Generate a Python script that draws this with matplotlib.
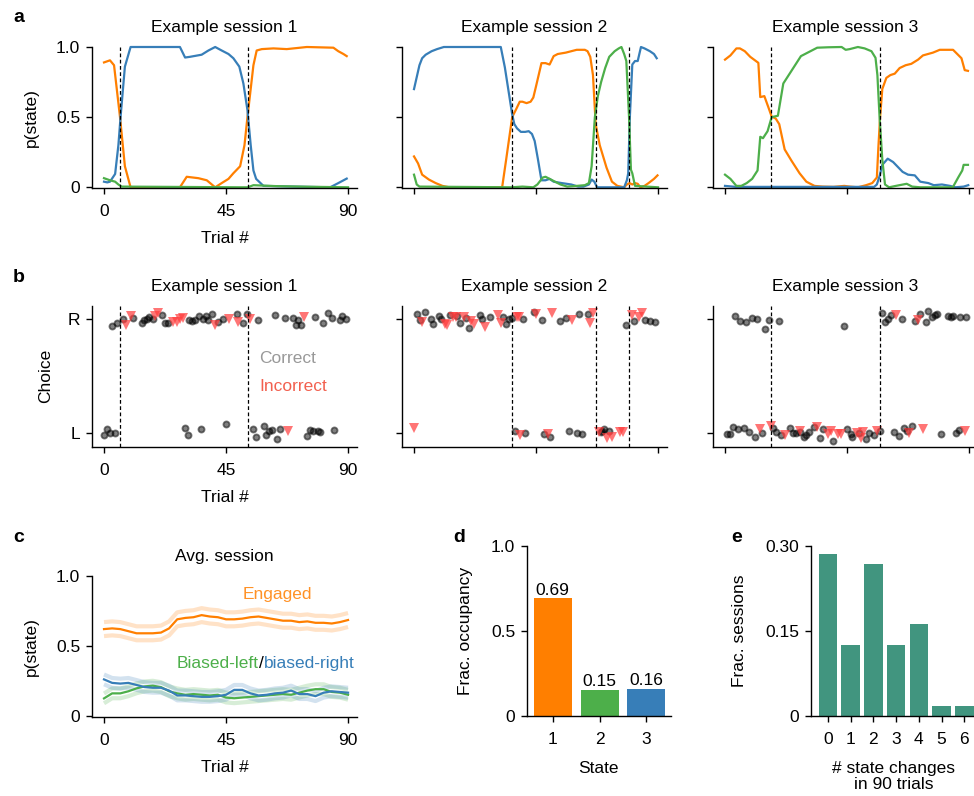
import matplotlib
matplotlib.use("Agg")
import matplotlib.pyplot as plt
import numpy as np

plt.rcParams["font.family"] = ["Liberation Sans", "DejaVu Sans"]
plt.rcParams["font.size"] = 12.5
plt.rcParams["axes.titlesize"] = 12.5

ORANGE = "#ff7f00"
GREEN = "#4daf4a"
BLUE = "#377eb8"
TEAL = "#41957f"
RED = "#ff3b3b"

# --- a: posterior state probabilities, three example sessions ---
s1_orange_x = [0, 2.2, 3.7, 5.9, 7.7, 9.8, 28, 30.5, 34.8, 37.9, 41, 43.4, 45.9, 47.7, 50.2, 51.8,
               52.9, 55.1, 56.3, 58.2, 62.5, 67.4, 74.8, 84.6, 86.4, 88.3, 89.5]
s1_orange_y = [0.89, 0.905, 0.87, 0.5, 0.15, 0.0, 0.0, 0.075, 0.065, 0.05, 0.0, 0.03, 0.06, 0.1, 0.15, 0.3,
               0.5, 0.87, 0.975, 0.985, 0.99, 0.985, 1.0, 0.995, 0.97, 0.95, 0.935]
s1_blue_x = [0, 1.2, 2.2, 4.1, 5.3, 6.1, 7.7, 9.8, 28, 29.9, 31.7, 36, 38.5, 41, 43.4, 45.9, 47.7, 49.9,
             51.4, 52.9, 54.1, 55.1, 56.1, 58.8, 70, 83.4, 86.4, 89.5]
s1_blue_y = [0.04, 0.035, 0.04, 0.095, 0.3, 0.5, 0.86, 1.0, 1.0, 0.925, 0.93, 0.945, 0.975, 1.0, 0.975, 0.95,
             0.92, 0.86, 0.74, 0.55, 0.3, 0.12, 0.06, 0.01, 0.005, 0.0, 0.03, 0.062]
s1_green_x = [0, 2.2, 4.1, 5.3, 6.5, 50, 53, 55.1, 58.8, 64, 75, 90]
s1_green_y = [0.065, 0.05, 0.04, 0.02, 0.005, 0.0, 0.0, 0.015, 0.012, 0.008, 0.004, 0.0]

s2_orange_x = [0, 1.5, 3, 5.5, 8, 10.5, 13, 32.5, 34, 36.2, 37.5, 39, 40, 41.5, 43, 44, 45, 47, 48.5, 50,
               51.5, 53, 56, 60, 63, 64, 65, 66, 67, 68.5, 71, 73, 75, 77.5, 78.5, 79.5, 80.5, 81.5, 82.5,
               83.5, 85, 86.5, 88.5, 89.8]
s2_orange_y = [0.22, 0.17, 0.09, 0.055, 0.03, 0.01, 0.0, 0.0, 0.2, 0.5, 0.55, 0.61, 0.61, 0.6, 0.61, 0.64,
               0.72, 0.885, 0.885, 0.875, 0.935, 0.95, 0.96, 0.98, 0.98, 0.97, 0.93, 0.8, 0.45, 0.3, 0.14,
               0.04, 0.01, 0.0, 0.02, 0.03, 0.02, 0.03, 0.025, 0.0, 0.01, 0.03, 0.06, 0.085]
s2_blue_x = [0, 2, 3, 4.3, 6.5, 8.5, 11, 32, 33.5, 36.2, 37, 38, 39.4, 41, 42.3, 43.5, 44.5, 45.7, 47, 48.5,
             50, 51.5, 54.5, 58, 60.5, 62.5, 64.5, 65.5, 66.5, 67.5, 77.5, 78.5, 79, 79.6, 80.5, 81.5, 82.5,
             83.7, 85, 87, 88.5, 89.5]
s2_blue_y = [0.70, 0.87, 0.92, 0.945, 0.97, 0.985, 1.0, 1.0, 0.855, 0.52, 0.45, 0.42, 0.395, 0.395, 0.40,
             0.38, 0.33, 0.2, 0.05, 0.05, 0.06, 0.04, 0.03, 0.02, 0.005, 0.005, 0.02, 0.055, 0.04, 0.0, 0.0,
             0.05, 0.1, 0.5, 0.875, 0.9, 0.9, 1.0, 0.99, 0.97, 0.95, 0.92]
s2_green_x = [0, 1, 2, 36, 40, 44, 45.5, 47.5, 48.5, 51, 54, 56.5, 60, 63, 64.5, 65.5, 66.7, 67.8, 69, 70.5,
              72, 74, 75.5, 76.5, 77.5, 78.3, 79.3, 80, 80.5, 81.5, 90]
s2_green_y = [0.09, 0.02, 0.005, 0.0, 0.005, 0.0, 0.02, 0.07, 0.075, 0.05, 0.02, 0.005, 0.01, 0.015, 0.03,
              0.15, 0.5, 0.65, 0.75, 0.85, 0.93, 0.97, 0.99, 1.0, 0.95, 0.9, 0.5, 0.125, 0.1, 0.01, 0.0]

s3_orange_x = [0, 2, 4.2, 5.5, 7.3, 9.3, 12.3, 13, 14.5, 16, 17.2, 18.7, 20, 22, 24.5, 27.5, 30, 33, 36, 40,
               44, 46, 49, 52, 54.3, 56, 56.6, 57.2, 58, 59.5, 61, 62.6, 64.4, 66.6, 68.7, 71.2, 73, 76.7,
               79.2, 84.1, 87.2, 88.4, 89.6]
s3_orange_y = [0.91, 0.94, 0.99, 0.99, 0.97, 0.93, 0.887, 0.643, 0.65, 0.57, 0.504, 0.49, 0.45, 0.27, 0.19,
               0.1, 0.04, 0.01, 0.005, 0.003, 0.01, 0.005, 0.0, 0.015, 0.03, 0.07, 0.3, 0.5, 0.7, 0.78, 0.8,
               0.81, 0.85, 0.87, 0.88, 0.91, 0.94, 0.96, 0.98, 0.98, 0.92, 0.835, 0.83]
s3_green_x = [0, 2, 4.2, 6, 8, 10, 12, 13, 14, 15.7, 17.2, 19.5, 21.5, 23.5, 25.5, 28, 30.5, 34, 38, 43, 44.5,
              46, 49, 51.5, 54, 55.5, 56.2, 57, 58, 59, 60.5, 63, 67, 69, 72, 84, 86, 87.5, 88, 89.6]
s3_green_y = [0.09, 0.06, 0.01, 0.01, 0.03, 0.06, 0.12, 0.36, 0.35, 0.4, 0.5, 0.51, 0.74, 0.8, 0.86, 0.935,
              0.96, 0.995, 0.998, 1.0, 0.98, 0.985, 1.0, 0.99, 0.97, 0.923, 0.8, 0.5, 0.2, 0.02, 0.0, 0.01,
              0.025, 0.005, 0.0, 0.0, 0.07, 0.12, 0.16, 0.16]
s3_blue_x = [0, 4, 55, 56, 57, 58, 60, 62, 63.5, 65.5, 67.5, 70, 72, 75, 77, 80, 83, 85, 88, 89.7]
s3_blue_y = [0.01, 0.003, 0.003, 0.02, 0.08, 0.16, 0.204, 0.18, 0.15, 0.11, 0.09, 0.085, 0.04, 0.03, 0.015,
             0.02, 0.01, 0.0, 0.005, 0.015]

state_changes = [[6, 53], [36.3, 67.3, 79.3], [17, 57]]

# --- b: choices (trial, vertical jitter) ---
s1_right_correct = [(2.8, -0.059), (4.7, -0.035), (6.9, 0), (10.8, 0.009), (13.9, -0.029), (14.7, -0.006),
                    (15.7, 0.006), (16.7, 0.018), (17.9, 0), (21.5, 0.038), (22.5, -0.029), (23.7, -0.029),
                    (31.4, -0.006), (32.3, -0.015), (33.5, -0.006), (35.0, 0.029), (36.6, 0), (37.6, 0.029),
                    (38.4, -0.006), (39.7, 0.047), (42.1, -0.024), (43.7, 0.006), (48.9, 0.044),
                    (51.1, -0.035), (52.8, 0.044), (56.9, -0.006), (63.0, 0.038), (66.7, 0.009),
                    (69.7, 0.009), (70.7, -0.05), (71.6, -0.006), (72.8, -0.05), (77.7, 0.018),
                    (80.8, -0.029), (82.6, 0.059), (83.9, 0.009), (86.9, -0.006), (87.9, 0.029), (89.4, 0)]
s1_right_wrong = [(8.1, -0.05), (9.9, 0.029), (18.8, 0.029), (20.0, 0.053), (25.5, -0.021), (26.8, -0.024),
                  (28.0, 0), (29.0, 0.009), (40.9, -0.05), (46.2, 0), (49.5, -0.021), (53.8, 0), (73.7, 0.018)]
s1_left_correct = [(0, -0.021), (1.0, 0.029), (2.2, -0.006), (4.1, -0.006), (30.0, 0.044), (31.1, -0.024),
                   (35.7, 0.029), (44.9, 0.074), (55.0, 0.029), (56.0, -0.041), (58.9, 0.062),
                   (59.9, -0.024), (60.9, 0.018), (61.8, 0.024), (63.9, -0.059), (64.8, 0.029),
                   (74.9, -0.026), (75.9, 0.024), (77.1, 0.018), (79.0, 0.015), (79.8, 0.009), (84.8, 0.024)]
s1_left_wrong = [(68.0, 0.015)]

s2_right_correct = [(1.2, 0.047), (2.3, -0.006), (4.2, 0.062), (6.1, 0), (7.0, -0.041), (9.1, 0.029),
                    (10.1, 0.003), (13.1, 0.038), (15.8, 0.029), (17.1, -0.035), (19.3, 0.009),
                    (20.1, -0.079), (24.2, 0.038), (25.2, 0), (28.1, 0.024), (33.0, 0.018), (34.0, -0.041),
                    (35.0, 0), (36.2, 0.009), (40.2, 0), (44.1, 0.068), (47.1, -0.006), (54.0, -0.012),
                    (56.1, 0.015), (61.0, 0.047), (64.1, 0.044), (78.0, -0.053), (81.3, -0.012),
                    (85.2, -0.006), (87.1, -0.015), (89.0, -0.026)]
s2_right_wrong = [(3.1, -0.021), (11.3, -0.044), (12.2, -0.05), (14.4, 0.024), (15.6, 0.018), (18.3, 0.024),
                  (21.1, -0.012), (22.3, -0.044), (26.3, -0.065), (30.9, 0.038), (31.9, -0.035),
                  (37.8, 0.018), (38.7, 0.018), (45.1, 0.047), (51.0, 0.053), (58.1, -0.006),
                  (65.0, -0.035), (65.9, 0.053), (80.4, 0.038), (83.1, 0.018), (84.1, 0.053)]
s2_left_correct = [(37.1, 0.018), (41.1, 0), (47.8, -0.012), (50.2, -0.035), (57.1, 0.012), (60.0, -0.006),
                   (62.0, -0.012), (68.8, 0.006), (69.4, 0.018), (70.2, 0.029), (71.8, 0.012)]
s2_left_wrong = [(0, 0.038), (39.2, -0.021), (49.4, -0.012), (68.1, 0.003), (71.1, -0.05), (73.1, -0.035),
                 (76.0, 0.009), (77.0, 0.003)]

s3_right_correct = [(3.7, 0.032), (5.7, -0.015), (7.7, -0.021), (9.8, 0.015), (11.8, 0.003), (14.9, -0.088),
                    (16.1, -0.006), (19.9, -0.015), (43.9, -0.056), (58.0, 0.059), (59.0, -0.021),
                    (60.0, 0.003), (61.2, 0.038), (65.2, 0), (70.1, -0.012), (71.9, 0.044), (74.1, -0.026),
                    (75.0, 0.076), (76.2, 0.024), (77.4, 0.038), (78.3, 0.044), (82.1, 0.029),
                    (83.2, 0.024), (84.1, 0.029), (86.8, 0.024), (89.0, 0.018)]
s3_right_wrong = [(63.2, 0.038), (71.0, -0.006)]
s3_left_correct = [(0.6, -0.012), (1.8, -0.012), (2.8, 0.053), (4.9, 0.029), (7.0, 0.038), (8.9, 0.003),
                   (11.0, -0.041), (13.8, -0.006), (17.7, 0.038), (18.7, 0.009), (20.7, -0.021),
                   (23.8, 0.044), (25.0, -0.006), (26.2, -0.006), (27.7, 0.009), (29.0, -0.035),
                   (29.9, -0.021), (31.1, 0.009), (32.9, 0.053), (35.1, -0.05), (36.3, 0.029),
                   (40.0, -0.071), (44.9, 0.035), (46.3, -0.012), (47.0, -0.035), (49.4, -0.006),
                   (52.1, -0.059), (53.0, 0), (54.9, -0.021), (57.1, 0.018), (62.2, 0.003), (64.0, -0.026),
                   (66.1, 0.038), (67.1, 0.015), (69.1, 0.062), (79.5, -0.012), (85.1, -0.006), (86.3, 0.024)]
s3_left_wrong = [(13.0, 0.029), (17.1, 0.062), (22.0, -0.021), (27.8, 0.015), (34.1, 0.047), (38.0, -0.012),
                 (39.0, 0.018), (41.5, -0.012), (42.9, -0.012), (48.8, 0), (50.0, -0.05), (51.0, 0.009),
                 (56.1, 0.018), (68.0, -0.006), (73.2, 0.032), (88.4, 0.018)]

# --- c: average session ---
c_trials = [0, 3, 6, 9, 12, 15, 18, 21, 24, 27, 30, 33, 36, 39, 42, 45, 48, 51, 54, 57, 60, 63, 66, 69, 72,
            75, 78, 81, 84, 87, 90]
c_engaged = [0.62, 0.625, 0.62, 0.605, 0.59, 0.59, 0.59, 0.595, 0.625, 0.69, 0.70, 0.705, 0.72, 0.71, 0.705,
             0.69, 0.69, 0.695, 0.705, 0.71, 0.70, 0.69, 0.68, 0.68, 0.67, 0.675, 0.665, 0.665, 0.66, 0.67,
             0.685]
c_left = [0.124, 0.16, 0.16, 0.175, 0.196, 0.21, 0.215, 0.205, 0.175, 0.16, 0.15, 0.155, 0.15, 0.145, 0.15,
          0.13, 0.125, 0.13, 0.135, 0.14, 0.145, 0.15, 0.155, 0.15, 0.165, 0.18, 0.19, 0.19, 0.17, 0.165, 0.15]
c_right = [0.26, 0.235, 0.23, 0.235, 0.22, 0.205, 0.2, 0.2, 0.18, 0.145, 0.145, 0.14, 0.135, 0.135, 0.14,
           0.15, 0.185, 0.185, 0.16, 0.145, 0.15, 0.16, 0.165, 0.18, 0.155, 0.155, 0.14, 0.165, 0.175, 0.17,
           0.165]
c_engaged_sem = 0.05
c_biased_sem = 0.035

# --- d: fractional occupancy ---
d_states = [1, 2, 3]
d_occupancy = [0.69, 0.15, 0.16]

# --- e: number of state changes per session ---
e_changes = [0, 1, 2, 3, 4, 5, 6]
e_frac = [0.286, 0.125, 0.268, 0.125, 0.161, 0.018, 0.018]

W, H = 974, 796


def rect(left, top, width, height):
    return [left / W, 1 - (top + height) / H, width / W, height / H]


def style(ax):
    for s in ["top", "right"]:
        ax.spines[s].set_visible(False)
    for s in ["left", "bottom"]:
        ax.spines[s].set_linewidth(1.0)
    ax.tick_params(direction="out", length=4.5, width=1.0, labelsize=12.5, pad=4)
    ax.tick_params(axis="x", pad=7)


fig = plt.figure(figsize=(W / 100, H / 100), dpi=100)

col_left = [92, 402, 713]
trial_xlim = (-4.43, 93.3)

# row a
a_series = [
    [(s1_orange_x, s1_orange_y, ORANGE), (s1_blue_x, s1_blue_y, BLUE), (s1_green_x, s1_green_y, GREEN)],
    [(s2_orange_x, s2_orange_y, ORANGE), (s2_blue_x, s2_blue_y, BLUE), (s2_green_x, s2_green_y, GREEN)],
    [(s3_orange_x, s3_orange_y, ORANGE), (s3_blue_x, s3_blue_y, BLUE), (s3_green_x, s3_green_y, GREEN)],
]
for i in range(3):
    ax = fig.add_axes(rect(col_left[i], 47, 265, 141))
    style(ax)
    for xs, ys, c in a_series[i]:
        ax.plot(xs, ys, color=c, lw=1.6, clip_on=False, solid_joinstyle="round")
    for x in state_changes[i]:
        ax.axvline(x, color="k", ls=(0, (3, 2)), lw=0.9)
    ax.set_xlim(*trial_xlim)
    ax.set_ylim(-0.005, 1.0)
    ax.set_xticks([0, 45, 90])
    ax.set_yticks([0, 0.5, 1.0])
    ax.set_title(f"Example session {i + 1}", pad=11)
    if i == 0:
        ax.set_yticklabels(["0", "0.5", "1.0"])
        ax.set_ylabel("p(state)")
        ax.yaxis.set_label_coords(-0.2, 0.5)
        ax.set_xlabel("Trial #", labelpad=9)
    else:
        ax.set_xticklabels([])
        ax.set_yticklabels([])

# row b
b_sessions = [
    (s1_right_correct, s1_right_wrong, s1_left_correct, s1_left_wrong),
    (s2_right_correct, s2_right_wrong, s2_left_correct, s2_left_wrong),
    (s3_right_correct, s3_right_wrong, s3_left_correct, s3_left_wrong),
]
for i in range(3):
    ax = fig.add_axes(rect(col_left[i], 306, 265, 140.7))
    style(ax)
    rc, rw, lc, lw_ = b_sessions[i]
    for pts, base, correct in [(rc, 1, True), (lc, 0, True), (rw, 1, False), (lw_, 0, False)]:
        if not pts:
            continue
        xs = [p[0] for p in pts]
        ys = [base + p[1] for p in pts]
        if correct:
            ax.plot(xs, ys, "o", color="k", alpha=0.5, ms=4.4, mew=1.3, clip_on=False)
        else:
            ax.plot(xs, ys, "v", color=RED, alpha=0.7, ms=7, mew=0, clip_on=False)
    for x in state_changes[i]:
        ax.axvline(x, color="k", ls=(0, (3, 2)), lw=0.9)
    ax.set_xlim(*trial_xlim)
    ax.set_ylim(-0.123, 1.117)
    ax.set_xticks([0, 45, 90])
    ax.set_yticks([0, 1])
    ax.set_title(f"Example session {i + 1}", pad=11)
    if i == 0:
        ax.set_yticklabels(["L", "R"])
        ax.set_ylabel("Choice")
        ax.yaxis.set_label_coords(-0.147, 0.5)
        ax.set_xlabel("Trial #", labelpad=9)
        ax.text(0.63, 0.63, "Correct", color="#999999", transform=ax.transAxes, va="center")
        ax.text(0.63, 0.425, "Incorrect", color="#f2604f", transform=ax.transAxes, va="center")
    else:
        ax.set_xticklabels([])
        ax.set_yticklabels([])

# c: average session
ax = fig.add_axes(rect(92, 576, 265, 140.7))
style(ax)
for ys, c, sem in [(c_engaged, ORANGE, c_engaged_sem), (c_left, GREEN, c_biased_sem),
                   (c_right, BLUE, c_biased_sem)]:
    ys = np.array(ys)
    ax.plot(c_trials, ys + sem, color=c, lw=3, alpha=0.22, solid_capstyle="butt")
    ax.plot(c_trials, ys - sem, color=c, lw=3, alpha=0.22, solid_capstyle="butt")
for ys, c in [(c_engaged, ORANGE), (c_left, GREEN), (c_right, BLUE)]:
    ax.plot(c_trials, ys, color=c, lw=1.6)
ax.set_xlim(*trial_xlim)
ax.set_ylim(-0.007, 1.0)
ax.set_xticks([0, 45, 90])
ax.set_yticks([0, 0.5, 1.0])
ax.set_yticklabels(["0", "0.5", "1.0"])
ax.set_title("Avg. session", pad=11)
ax.set_ylabel("p(state)")
ax.yaxis.set_label_coords(-0.2, 0.5)
ax.set_xlabel("Trial #", labelpad=9)
ax.text(0.698, 0.865, "Engaged", color=ORANGE, alpha=0.85, transform=ax.transAxes, ha="center",
        va="center")
t1 = ax.text(0.32, 0.38, "Biased-left", color=GREEN, transform=ax.transAxes, va="center")
t2 = ax.annotate("/", xycoords=t1, xy=(1, 0), va="bottom", color="k")
ax.annotate("biased-right", xycoords=t2, xy=(1, 0), va="bottom", color=BLUE)

# d: fractional occupancy
ax = fig.add_axes(rect(527, 545.7, 143.7, 170))
style(ax)
bars = ax.bar(d_states, d_occupancy, width=0.81, color=[ORANGE, GREEN, BLUE])
for b, v in zip(bars, d_occupancy):
    ax.text(b.get_x() + b.get_width() / 2, v + 0.005, f"{v:.2f}", ha="center", va="bottom")
ax.set_xlim(0.45, 3.52)
ax.set_ylim(0, 1.0)
ax.set_xticks(d_states)
ax.set_yticks([0, 0.5, 1.0])
ax.set_yticklabels(["0", "0.5", "1.0"])
ax.set_ylabel("Frac. occupancy")
ax.yaxis.set_label_coords(-0.376, 0.5)
ax.set_xlabel("State", labelpad=10)

# e: number of state changes
ax = fig.add_axes(rect(811, 545.7, 165.7, 170))
style(ax)
ax.bar(e_changes, e_frac, width=0.82, color=TEAL)
ax.set_xlim(-0.75, 6.55)
ax.set_ylim(0, 0.30)
ax.set_xticks(e_changes)
ax.set_yticks([0, 0.15, 0.30])
ax.set_yticklabels(["0", "0.15", "0.30"])
ax.set_ylabel("Frac. sessions")
ax.yaxis.set_label_coords(-0.386, 0.5)
ax.set_xlabel("# state changes\nin 90 trials", labelpad=10, linespacing=1.15)

# panel letters
for letter, x, y in [("a", 19, 17), ("b", 19, 278), ("c", 19, 537), ("d", 459, 537), ("e", 737, 537)]:
    fig.text(x / W, 1 - y / H, letter, fontsize=14, fontweight="bold", ha="center", va="center")

fig.savefig("out.png", dpi=100)
